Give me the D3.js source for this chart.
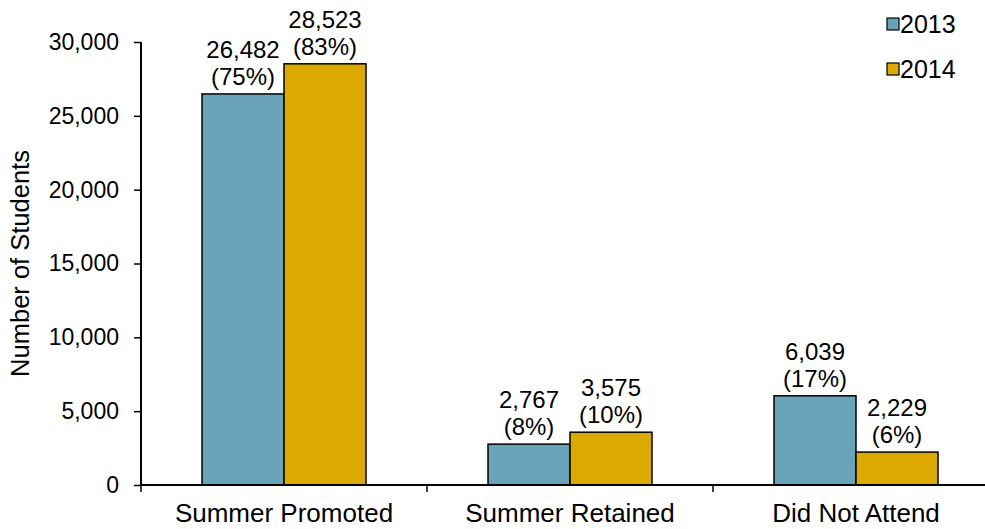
<!DOCTYPE html>
<html>
<head>
<meta charset="utf-8">
<script src="https://cdn.jsdelivr.net/npm/d3@7"></script>
<style>
  body { margin: 0; background: #fff; }
  svg text { font-family: "Liberation Sans", Arial, sans-serif; fill: #000; }
</style>
</head>
<body>
<svg id="chart"></svg>
<script>
const categories = ["Summer Promoted", "Summer Retained", "Did Not Attend"];
const years = ["2013", "2014"];
const values2013 = [26482, 2767, 6039];
const values2014 = [28523, 3575, 2229];
const pct2013 = ["75%", "8%", "17%"];
const pct2014 = ["83%", "10%", "6%"];
const yTicks = [0, 5000, 10000, 15000, 20000, 25000, 30000];
const colors = ["#69a3b9", "#dba900"];

const width = 985, height = 529;
const margin = {top: 42, left: 141, bottom: 44, right: -14};

const svg = d3.select('#chart')
    .attr('width', width)
    .attr('height', height);

const data = categories.map((c, i) => ({
    category: c,
    bars: [
        {year: years[0], value: values2013[i], pct: pct2013[i]},
        {year: years[1], value: values2014[i], pct: pct2014[i]}
    ]
}));

const x0 = d3.scaleBand()
    .domain(categories)
    .range([margin.left, width - margin.right])
    .padding(0);

const x1 = d3.scaleBand()
    .domain(years)
    .range([0, x0.bandwidth()])
    .paddingInner(0)
    .paddingOuter(0.744);

const y = d3.scaleLinear()
    .domain([0, 30000])
    .range([height - margin.bottom, margin.top]);

// y axis
const yAxis = svg.append('g')
    .attr('transform', `translate(${margin.left},0)`)
    .call(d3.axisLeft(y).tickValues(yTicks).tickFormat(d3.format(',')).tickSize(7).tickPadding(15));
yAxis.select('.domain').attr('stroke', '#000').attr('stroke-width', 2)
    .attr('d', `M0,${y(30000)}V${y(0)}`);
yAxis.selectAll('.tick line').attr('stroke', '#000').attr('stroke-width', 1.5);
yAxis.selectAll('.tick text').attr('font-size', 23).attr('font-family', '"Liberation Sans", Arial, sans-serif').attr('fill', '#000');

// bars
const groups = svg.selectAll('.group')
    .data(data)
    .join('g')
    .attr('class', 'group')
    .attr('transform', d => `translate(${x0(d.category)},0)`);

groups.selectAll('rect')
    .data(d => d.bars)
    .join('rect')
    .attr('x', d => x1(d.year))
    .attr('y', d => y(d.value))
    .attr('width', x1.bandwidth())
    .attr('height', d => y(0) - y(d.value))
    .attr('fill', (d, i) => colors[i])
    .attr('stroke', '#000')
    .attr('stroke-width', 1.5);

// value labels
const labels = groups.selectAll('.lbl')
    .data(d => d.bars)
    .join('text')
    .attr('class', 'lbl')
    .attr('text-anchor', 'middle')
    .attr('font-size', 24)
    .attr('x', d => x1(d.year) + x1.bandwidth() / 2)
    .attr('y', d => y(d.value) - 36);
labels.append('tspan').text(d => d3.format(',')(d.value));
labels.append('tspan')
    .attr('x', d => x1(d.year) + x1.bandwidth() / 2)
    .attr('dy', 27)
    .text(d => `(${d.pct})`);

// x axis
svg.append('line')
    .attr('x1', margin.left).attr('x2', width - margin.right)
    .attr('y1', y(0)).attr('y2', y(0))
    .attr('stroke', '#000').attr('stroke-width', 2);

const boundaries = categories.map(c => x0(c)).concat([x0(categories[categories.length - 1]) + x0.bandwidth()]);
svg.selectAll('.xtick')
    .data(boundaries)
    .join('line')
    .attr('class', 'xtick')
    .attr('x1', d => d).attr('x2', d => d)
    .attr('y1', y(0)).attr('y2', y(0) + 7)
    .attr('stroke', '#000').attr('stroke-width', 1.5);

svg.selectAll('.xlabel')
    .data(categories)
    .join('text')
    .attr('class', 'xlabel')
    .attr('text-anchor', 'middle')
    .attr('font-size', 26)
    .attr('x', d => x0(d) + x0.bandwidth() / 2)
    .attr('y', 522)
    .text(d => d);

// y axis title
svg.append('text')
    .attr('text-anchor', 'middle')
    .attr('font-size', 25.5)
    .attr('transform', `translate(29,${(y(0) + y(30000)) / 2}) rotate(-90)`)
    .text('Number of Students');

// legend
const legend = svg.selectAll('.legend')
    .data(years)
    .join('g')
    .attr('class', 'legend')
    .attr('transform', (d, i) => `translate(887,${18 + i * 45})`);
legend.append('rect')
    .attr('width', 12).attr('height', 12)
    .attr('fill', (d, i) => colors[i])
    .attr('stroke', '#000').attr('stroke-width', 1.2);
legend.append('text')
    .attr('x', 13).attr('y', 14.5)
    .attr('font-size', 25)
    .text(d => d);
</script>
</body>
</html>
